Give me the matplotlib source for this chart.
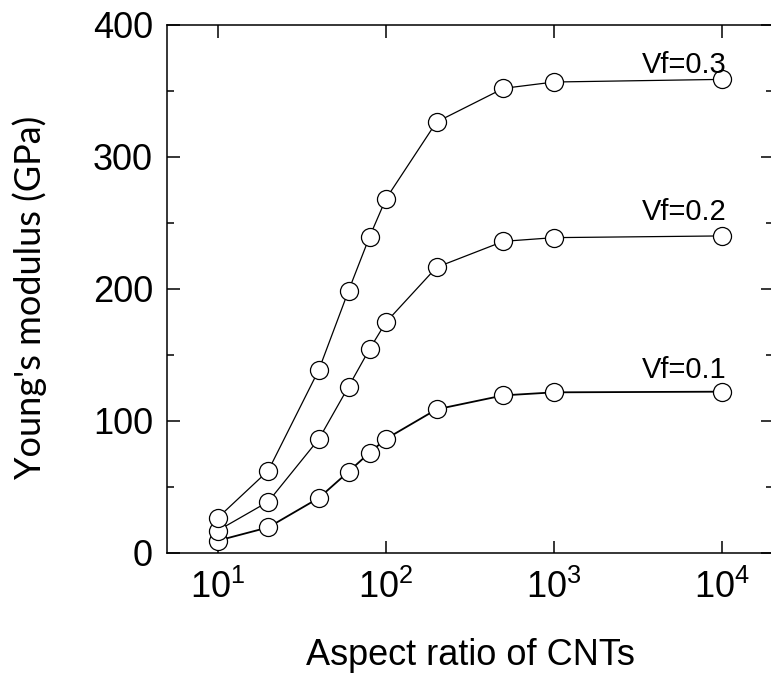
import matplotlib
matplotlib.use("Agg")
import matplotlib.pyplot as plt
from matplotlib.ticker import FixedLocator, MultipleLocator, NullLocator

# Data
aspect_ratio = [10, 20, 40, 60, 80, 100, 200, 500, 1000, 10000]
E_vf01 = [9.3, 19.4, 41.7, 61.6, 76, 86.4, 108.8, 119.4, 121.7, 122.2]
E_vf02 = [16.9, 38.9, 86.4, 126, 154.5, 174.7, 216.4, 236.1, 238.9, 240.2]
E_vf03 = [26.5, 62.4, 138.9, 198.7, 239.6, 268.2, 326.5, 352, 356.8, 358.8]

x_ticks = [10, 100, 1000, 10000]
x_tick_labels = [r'$\mathregular{10^{1}}$', r'$\mathregular{10^{2}}$',
                 r'$\mathregular{10^{3}}$', r'$\mathregular{10^{4}}$']
y_ticks = [0, 100, 200, 300, 400]

plt.rcParams['font.family'] = ['Liberation Sans', 'DejaVu Sans']
plt.rcParams['mathtext.fontset'] = 'custom'
plt.rcParams['mathtext.rm'] = 'Liberation Sans'

fig = plt.figure(figsize=(7.71, 6.79), dpi=100)
ax = fig.add_axes([0.2166, 0.1856, 0.786, 0.7776])

marker_style = dict(marker='o', markersize=13, markerfacecolor='white',
                    markeredgecolor='black', markeredgewidth=0.9, color='black')
ax.plot(aspect_ratio, E_vf01, linewidth=1.3, **marker_style)
ax.plot(aspect_ratio, E_vf02, linewidth=0.9, **marker_style)
ax.plot(aspect_ratio, E_vf03, linewidth=0.9, **marker_style)

# Curve labels
ax.text(10600, 363.6, 'Vf=0.3', ha='right', va='baseline', fontsize=21)
ax.text(10600, 252, 'Vf=0.2', ha='right', va='baseline', fontsize=21)
ax.text(10600, 132.6, 'Vf=0.1', ha='right', va='baseline', fontsize=21)

ax.set_xscale('log')
ax.set_xlim(5, 2e4)
ax.set_ylim(0, 400)

ax.xaxis.set_major_locator(FixedLocator(x_ticks))
ax.set_xticklabels(x_tick_labels)
ax.xaxis.set_minor_locator(NullLocator())
ax.set_yticks(y_ticks)
ax.yaxis.set_minor_locator(MultipleLocator(50))

ax.tick_params(which='both', direction='in', top=True, right=True, width=1.1)
ax.tick_params(which='major', length=9, labelsize=26)
ax.tick_params(axis='x', which='major', pad=12)
ax.tick_params(axis='y', which='major', pad=10)
ax.tick_params(which='minor', length=5)
for sp in ax.spines.values():
    sp.set_linewidth(1.1)

ax.set_xlabel('Aspect ratio of CNTs', fontsize=26, labelpad=23)
ax.set_ylabel("Young's modulus (GPa)", fontsize=26, family=['Lato', 'DejaVu Sans'])
ax.yaxis.set_label_coords(-0.198, 0.485)

fig.savefig('out.png', dpi=100)
